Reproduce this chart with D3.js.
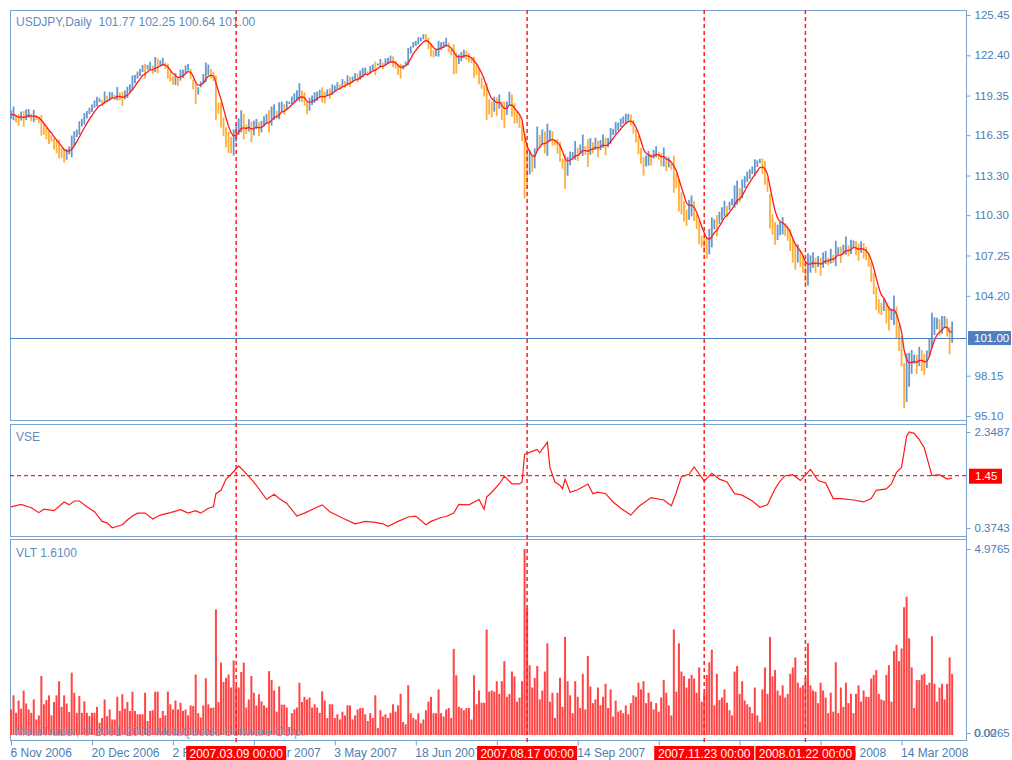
<!DOCTYPE html>
<html>
<head>
<meta charset="utf-8">
<script src="https://cdn.jsdelivr.net/npm/d3@7"></script>
<style>
  html, body { margin: 0; padding: 0; background: #fff; }
  svg { display: block; font-family: "Liberation Sans", Arial, sans-serif; }
  .axis text { font-size: 11.5px; fill: #4d7db3; }
  .axis path, .axis line { stroke: #7aa3cf; }
  .xaxis text { font-size: 12px; }
</style>
</head>
<body>
<div id="app"></div>
<script>
// bar centres (price) and daily range (VLT), one per trading day
const mids = [
  117.9,118.0,117.6,117.5,117.8,117.6,117.9,118.0,117.7,117.8,
  117.7,117.5,117.1,116.8,116.5,116.2,116.1,115.7,115.5,115.3,
  115.0,114.8,114.9,115.2,115.5,116.1,116.5,116.9,117.3,117.6,
  117.9,118.2,118.4,118.7,118.9,119.0,118.8,119.2,119.1,119.3,
  119.4,119.2,119.5,119.3,119.1,119.4,119.6,119.9,120.3,120.6,
  120.9,121.1,121.4,121.2,121.5,121.6,121.3,121.7,121.6,121.8,
  121.9,121.6,121.2,120.8,120.5,120.6,120.4,120.9,121.0,121.3,
  121.5,121.0,120.2,119.5,119.7,120.2,120.6,121.1,121.3,121.0,
  120.8,119.2,118.4,117.9,117.0,116.2,115.8,115.6,115.8,116.5,
  117.0,117.4,117.0,116.8,117.1,116.6,116.9,117.2,116.8,117.0,
  117.4,117.6,117.4,117.8,118.1,117.9,118.2,118.5,118.3,118.6,
  118.8,119.0,119.2,119.4,119.6,119.3,119.1,118.4,118.7,119.0,
  119.2,119.3,119.5,119.4,119.2,119.6,119.5,119.8,119.9,120.1,
  120.0,120.3,120.2,120.5,120.4,120.6,120.8,120.7,120.9,121.1,
  121.2,121.0,121.3,121.5,121.4,121.7,121.8,121.6,121.9,122.0,
  122.1,121.9,121.7,121.3,121.2,121.5,121.8,122.3,122.8,123.2,
  123.3,123.5,123.6,123.8,123.7,123.3,122.8,122.5,122.6,122.9,
  123.1,123.2,123.4,123.0,122.6,122.1,121.8,122.1,122.3,122.5,
  122.4,122.2,122.0,121.5,121.3,120.8,120.3,119.7,118.9,118.5,
  118.3,118.7,118.5,118.9,118.2,117.9,118.4,119.1,118.6,118.0,
  117.7,117.4,116.6,114.05,114.0,114.3,114.2,114.6,116.1,115.9,
  116.2,115.8,116.0,116.3,116.1,115.8,115.5,115.1,114.2,113.6,
  114.0,114.6,114.8,115.2,114.9,115.3,115.6,115.2,115.0,115.5,
  115.4,115.7,115.3,115.6,115.9,115.5,115.8,116.3,116.6,116.9,
  117.0,117.3,117.5,117.6,117.7,117.5,117.0,116.3,115.6,114.8,
  114.0,114.4,114.6,114.5,114.9,115.1,114.8,114.5,114.7,114.2,
  114.3,114.0,113.4,112.9,111.8,111.2,110.6,110.1,110.7,111.0,
  110.6,109.8,109.0,108.3,108.0,107.8,108.3,109.0,109.6,109.5,
  110.1,110.4,110.8,110.6,111.0,111.3,111.7,112.0,111.8,112.3,
  112.8,113.2,113.4,113.7,113.9,114.2,114.4,114.0,113.5,112.6,
  110.6,109.6,108.9,109.0,109.3,109.5,109.2,108.9,108.4,107.6,
  107.2,107.4,107.0,106.6,105.9,106.2,106.6,106.9,106.5,106.8,
  106.4,106.9,107.1,106.8,107.2,107.0,107.4,107.6,107.3,107.7,
  108.0,107.6,107.9,108.1,107.8,107.5,107.9,107.6,107.4,106.9,
  106.0,105.1,104.0,103.4,103.2,103.5,102.9,102.5,102.8,103.1,
  102.2,101.0,100.0,97.4,98.0,98.6,99.2,99.4,99.0,99.6,
  99.3,99.0,99.4,100.3,101.6,101.9,102.1,101.8,102.0,102.2,
  101.8,100.8,101.445
];
const vlt = [
  0.66,1.04,0.57,0.90,0.68,1.17,0.82,0.66,0.57,0.93,
  0.39,0.50,1.56,0.80,0.91,1.04,0.50,0.86,1.04,1.42,
  0.73,1.04,0.82,0.59,1.65,1.11,0.57,1.02,0.57,0.88,
  0.57,0.48,0.57,0.57,0.73,0.30,0.43,0.93,0.48,0.66,
  0.39,0.39,1.00,0.62,1.07,0.68,0.86,0.62,1.14,0.62,
  0.53,0.53,0.53,1.11,0.35,0.62,0.64,1.14,1.14,0.43,
  0.62,0.50,1.14,0.80,0.66,0.90,0.66,0.84,0.62,0.66,
  0.50,0.77,0.75,1.60,0.56,0.44,0.77,1.50,0.80,0.70,
  0.71,3.35,0.86,1.92,1.40,1.51,1.60,1.25,1.98,1.29,
  1.25,1.67,1.92,0.71,0.93,1.56,1.11,0.77,1.07,0.88,
  0.77,0.71,1.69,1.45,1.17,0.60,1.28,0.79,0.79,0.71,
  0.19,0.56,0.66,0.71,1.38,0.86,1.00,0.93,0.98,0.71,
  0.80,0.71,0.57,1.15,0.90,0.43,0.80,0.80,0.43,0.53,
  0.39,0.60,0.50,0.77,0.77,0.39,0.50,0.66,0.70,0.70,
  0.53,0.35,0.56,0.43,1.04,0.16,0.64,0.47,0.53,0.43,
  0.57,0.80,0.60,0.77,1.08,0.32,0.26,1.31,0.56,0.43,
  0.39,0.56,0.29,0.39,0.64,0.87,1.00,0.56,0.56,1.20,
  0.56,0.47,0.66,0.70,0.43,2.29,1.58,0.73,0.70,0.64,
  0.70,0.70,0.39,1.58,0.80,1.17,0.84,0.84,2.81,1.14,
  1.17,1.14,1.42,1.08,1.42,1.96,1.00,1.08,1.68,1.55,
  0.87,0.98,1.42,4.9765,3.38,1.85,1.25,1.51,1.83,0.93,
  1.17,1.68,2.44,0.87,1.11,0.43,1.11,1.51,0.73,2.61,
  1.42,1.04,0.56,1.42,1.00,0.70,1.62,0.66,2.10,1.28,
  0.83,0.93,1.25,0.77,1.00,1.35,0.70,1.20,0.47,0.90,
  0.60,0.64,0.56,0.77,0.53,0.83,1.04,1.00,1.38,1.20,
  1.42,0.83,1.11,0.87,0.66,0.83,0.60,0.98,1.45,1.11,
  0.77,0.50,2.81,1.14,2.44,1.68,1.56,1.25,1.49,1.59,
  1.49,1.11,1.79,0.87,1.11,1.59,1.93,2.27,0.77,1.62,
  0.91,0.98,1.20,0.84,0.64,0.50,1.68,1.83,1.08,1.42,
  0.90,0.80,0.73,0.56,1.25,0.50,0.32,1.20,1.79,1.08,
  2.61,1.55,1.72,1.17,1.04,1.31,0.98,1.08,1.62,1.79,
  2.06,1.38,1.25,1.31,1.51,2.44,1.31,1.17,1.14,0.83,
  1.38,1.17,0.98,0.56,1.11,0.60,1.93,0.56,1.25,0.73,
  1.38,0.83,1.08,0.56,1.08,1.31,0.87,1.17,1.00,1.00,
  1.49,1.59,1.72,1.08,0.93,0.90,1.59,1.85,0.87,2.23,
  2.40,1.96,2.30,3.41,3.69,2.57,1.79,0.70,1.45,1.45,
  1.59,1.62,1.32,1.38,2.63,1.35,0.87,1.25,1.35,0.93,
  1.35,2.06,1.61
];

// VSE indicator read at sampled bars
const vseBars = [0,4,8,11,13,17,21,23,25,27,30,33,36,38,40,44,46,48,50,53,56,59,63,67,70,73,75,78,80,81,83,85,87,90,92,94,
  96,99,101,104,106,109,113,116,120,123,126,131,136,140,144,147,149,153,157,160,164,166,170,172,175,177,181,185,187,
  188,190,193,195,198,201,202,203,206,208,209,212,213,215,217,218,219,221,224,228,230,232,235,238,241,245,248,253,258,261,263,265,268,270,274,277,280,
  283,286,289,293,296,299,302,304,306,309,312,316,319,322,325,328,333,337,340,342,346,348,350,352,354,355,357,359,361,364,367,370,372];
const vse = [0.81,0.86,0.79,0.69,0.76,0.73,0.91,0.85,0.93,0.93,0.81,0.71,0.51,0.48,0.38,0.44,0.54,0.62,0.68,0.68,0.56,0.64,0.69,0.75,0.68,0.73,0.68,0.78,0.81,1.08,1.15,1.38,1.48,1.65,1.55,1.43,
  1.32,1.11,0.96,1.07,0.98,0.88,0.62,0.68,0.78,0.85,0.71,0.58,0.46,0.51,0.49,0.46,0.41,0.51,0.60,0.62,0.44,0.51,0.59,0.61,0.68,0.86,0.85,0.96,0.76,
  1.01,1.11,1.28,1.44,1.28,1.28,1.32,1.89,1.95,1.99,1.92,2.14,1.62,1.32,1.25,1.18,1.38,1.11,1.16,1.28,1.08,1.11,1.08,0.91,0.78,0.64,0.81,1.00,0.95,0.83,1.11,1.43,1.48,1.63,1.34,1.50,1.38,
  1.32,1.08,1.05,0.93,0.80,0.85,1.18,1.34,1.45,1.47,1.35,1.58,1.35,1.30,0.98,0.98,0.95,0.91,0.98,1.15,1.18,1.28,1.52,1.62,2.26,2.3487,2.32,2.19,2.02,1.45,1.47,1.38,1.40];

const priceTicks = [125.45, 122.40, 119.35, 116.35, 113.30, 110.30, 107.25, 104.20, 98.15, 95.10];
const vseTicks = [2.3487, 0.3743];
const vltTicks = [4.9765, 0.0265];
const lastClose = 101.00;
const vseLevel = 1.45;
const markerDays = ["2007-03-09", "2007-08-17", "2007-11-23", "2008-01-22"];
const holidays = ["2007-12-25", "2008-01-01"];
const firstDay = "2006-11-06";

const W = 1012, H = 760;
const svg = d3.select("#app").append("svg").attr("width", W).attr("height", H);

// trading calendar (weekdays minus holidays)
const iso = d3.timeFormat("%Y-%m-%d");
const dates = [];
for (let d = d3.timeParse("%Y-%m-%d")(firstDay); dates.length < mids.length; d = d3.timeDay.offset(d, 1)) {
  const wd = d.getDay();
  if (wd === 0 || wd === 6 || holidays.includes(iso(d))) continue;
  dates.push(d);
}
const n = mids.length;

const x = d3.scaleLinear().domain([0, n - 1]).range([11, 11 + (n - 1) * 2.53]);
const yMain = d3.scaleLinear().domain([95.10, 125.45]).range([416, 15]);
const yVse = d3.scaleLinear().domain([0.3743, 2.3487]).range([528, 432]);
const yVlt = d3.scaleLinear().domain([0.0265, 4.9765]).range([733, 549]);

const panels = [[10, 420], [424, 536], [539, 740]];
const border = "#7aa3cf";
panels.forEach(([t, b]) => {
  svg.append("rect").attr("x", 10.5).attr("y", t + 0.5).attr("width", 956).attr("height", b - t)
    .attr("fill", "#fff").attr("stroke", border);
});

// price bars
const bars = d3.range(n).map(i => ({
  i, hi: mids[i] + vlt[i] / 2, lo: mids[i] - vlt[i] / 2,
  up: i === 0 || mids[i] >= mids[i - 1]
}));
svg.append("g").selectAll("line").data(bars).join("line")
  .attr("x1", d => x(d.i)).attr("x2", d => x(d.i))
  .attr("y1", d => yMain(d.hi)).attr("y2", d => yMain(d.lo))
  .attr("stroke", d => d.up ? "#6797cf" : "#ffaf3a")
  .attr("stroke-width", 1.8);

// moving average of bar centres
const ma = [];
const k = 2 / 6;
mids.forEach((v, i) => ma.push(i === 0 ? v : ma[i - 1] + k * (v - ma[i - 1])));
svg.append("path").datum(ma)
  .attr("fill", "none").attr("stroke", "#ff1a1a").attr("stroke-width", 1.3)
  .attr("d", d3.line().x((d, i) => x(i)).y(d => yMain(d)).curve(d3.curveMonotoneX));

// last price line
svg.append("line").attr("x1", 10).attr("x2", 966)
  .attr("y1", Math.round(yMain(lastClose)) + 0.5).attr("y2", Math.round(yMain(lastClose)) + 0.5)
  .attr("stroke", "#4f80bd").attr("stroke-width", 1);

// VSE panel
svg.append("line").attr("x1", 10).attr("x2", 966)
  .attr("y1", yVse(vseLevel)).attr("y2", yVse(vseLevel))
  .attr("stroke", "#ff2020").attr("stroke-width", 1.2).attr("stroke-dasharray", "4,3");
svg.append("path").datum(vseBars.map((b, j) => [b, vse[j]]))
  .attr("fill", "none").attr("stroke", "#ff1a1a").attr("stroke-width", 1.2)
  .attr("d", d3.line().x(d => x(d[0])).y(d => yVse(d[1])));

// VLT histogram
svg.append("g").selectAll("rect").data(vlt).join("rect")
  .attr("x", (d, i) => x(i) - 1).attr("width", 2)
  .attr("y", d => yVlt(d)).attr("height", d => 735 - yVlt(d))
  .attr("fill", "#ff4545");

svg.append("text").attr("x", 15).attr("y", 736)
  .attr("font-size", 12).attr("fill", "#6d93c4").attr("opacity", 0.85)
  .text("MetaTrader, © 2001-2008 MetaQuotes Software Corp.");

// labels
svg.append("text").attr("x", 16).attr("y", 26).attr("font-size", 12).attr("fill", "#5f8cc2")
  .text("USDJPY,Daily\u00a0\u00a0101.77 102.25 100.64 101.00");
svg.append("text").attr("x", 16).attr("y", 441).attr("font-size", 12).attr("fill", "#5f8cc2").text("VSE");
svg.append("text").attr("x", 16).attr("y", 557).attr("font-size", 12).attr("fill", "#5f8cc2").text("VLT 1.6100");

// right axes
const axMain = svg.append("g").attr("class", "axis").attr("transform", "translate(966.5,0)")
  .call(d3.axisRight(yMain).tickValues(priceTicks).tickFormat(d3.format(".2f")).tickSize(4).tickPadding(4));
axMain.select(".domain").remove();
svg.append("g").attr("class", "axis").attr("transform", "translate(966.5,0)")
  .call(d3.axisRight(yVse).tickValues(vseTicks).tickFormat(d3.format(".4f")).tickSize(4).tickPadding(4))
  .select(".domain").remove();
svg.append("g").attr("class", "axis").attr("transform", "translate(966.5,0)")
  .call(d3.axisRight(yVlt).tickValues(vltTicks).tickFormat(d3.format(".4f")).tickSize(4).tickPadding(4))
  .select(".domain").remove();
svg.append("text").attr("x", 974).attr("y", yVlt(0.0265)).attr("dy", "0.32em")
  .attr("font-size", 11.5).attr("fill", "#4d7db3").text("0.00");
svg.append("line").attr("x1", 966.5).attr("x2", 966.5).attr("y1", 10).attr("y2", 740).attr("stroke", border);

// price and level boxes
const yl = yMain(lastClose);
svg.append("rect").attr("x", 968).attr("y", yl - 7).attr("width", 43).attr("height", 14).attr("fill", "#4f80bd");
svg.append("text").attr("x", 974).attr("y", yl).attr("dy", "0.35em").attr("font-size", 11.5).attr("fill", "#fff")
  .text(d3.format(".2f")(lastClose));
const yv = yVse(vseLevel);
svg.append("rect").attr("x", 969).attr("y", yv - 7).attr("width", 33).attr("height", 15).attr("fill", "#ff0000");
svg.append("text").attr("x", 975).attr("y", yv + 0.5).attr("dy", "0.35em").attr("font-size", 11.5).attr("fill", "#fff")
  .text(d3.format(".2f")(vseLevel));

// time axis
const fmt = d3.timeFormat("%-d %b %Y");
const ax = svg.append("g").attr("class", "axis xaxis").attr("transform", "translate(0,740.5)")
  .call(d3.axisBottom(x).tickValues(d3.range(0, n, 32)).tickFormat(i => fmt(dates[i])).tickSize(5).tickPadding(3));
ax.select(".domain").remove();
ax.selectAll("text").attr("text-anchor", "start").attr("dx", -1);

// vertical markers
const mfmt = d3.timeFormat("%Y.%m.%d 00:00");
const markers = markerDays.map(s => dates.findIndex(d => iso(d) === s));
const mg = svg.append("g").selectAll("g").data(markers).join("g");
mg.append("line").attr("x1", d => x(d)).attr("x2", d => x(d)).attr("y1", 10).attr("y2", 745)
  .attr("stroke", "#ff2020").attr("stroke-width", 1.5).attr("stroke-dasharray", "4,3");
mg.append("rect").attr("x", d => x(d) - 50).attr("y", 746).attr("width", 100).attr("height", 14).attr("fill", "#ff0000");
mg.append("text").attr("x", d => x(d)).attr("y", 757.5).attr("text-anchor", "middle")
  .attr("font-size", 12).attr("fill", "#fff").text(d => mfmt(dates[d]));
</script>
</body>
</html>
